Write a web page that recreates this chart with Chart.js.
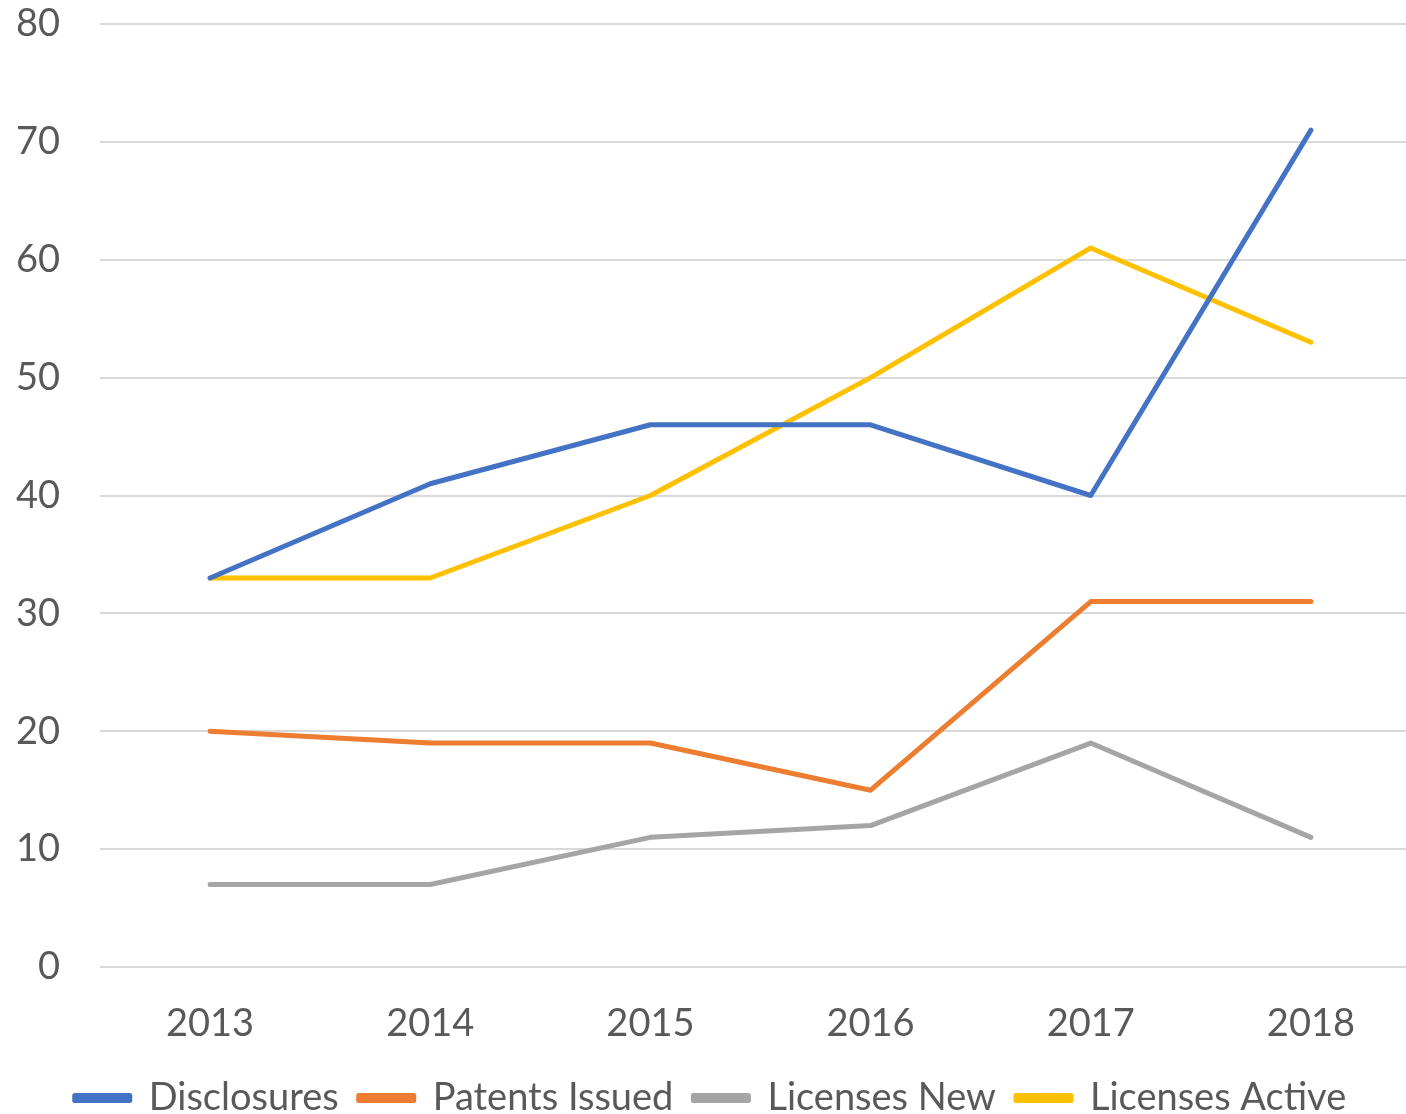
<!DOCTYPE html>
<html>
<head>
<meta charset="utf-8">
<script src="https://cdn.jsdelivr.net/npm/chart.js@4.4.0/dist/chart.umd.min.js"></script>
<style>
  html, body { margin: 0; padding: 0; background: #fff; overflow: hidden; }
  canvas { display: block; }
</style>
</head>
<body>
<canvas id="grafica" width="1422" height="1127"></canvas>
<script>
// datos
const anios = ["2013", "2014", "2015", "2016", "2017", "2018"];
const disclosures = [33, 41, 46, 46, 40, 71];
const patentsIssued = [20, 19, 19, 15, 31, 31];
const licensesNew = [7, 7, 11, 12, 19, 11];
const licensesActive = [33, 33, 40, 50, 61, 53];
const yTicks = [0, 10, 20, 30, 40, 50, 60, 70, 80];

const fuente = "Lato, 'Open Sans', sans-serif";
const gris = "#595959";

function serie(label, data, color) {
  return {
    label, data,
    borderColor: color,
    backgroundColor: color,
    borderWidth: 5,
    pointRadius: 0,
    tension: 0,
    borderCapStyle: "round",
    borderJoinStyle: "round"
  };
}

new Chart(document.getElementById("grafica"), {
  type: "line",
  data: {
    labels: anios,
    datasets: [
      serie("Disclosures", disclosures, "#4472C4"),
      serie("Patents Issued", patentsIssued, "#ED7D31"),
      serie("Licenses New", licensesNew, "#A5A5A5"),
      serie("Licenses Active", licensesActive, "#FFC000")
    ]
  },
  options: {
    responsive: false,
    animation: false,
    layout: { padding: { top: 24, right: 1, left: 0, bottom: 0 } },
    scales: {
      x: {
        offset: true,
        grid: { display: false, drawTicks: false },
        border: { display: false },
        ticks: { color: gris, font: { family: fuente, size: 38 }, padding: 34, maxRotation: 0 },
        afterFit: s => { s.height = 92; }
      },
      y: {
        min: 0, max: 80,
        afterBuildTicks: s => { s.ticks = yTicks.map(v => ({ value: v })); },
        // la separacion de las etiquetas va en tickLength (padding agranda el area superior)
        grid: { color: "#d9d9d9", lineWidth: 2, drawTicks: true, tickLength: 40, tickColor: "rgba(0,0,0,0)" },
        border: { display: false },
        ticks: { color: gris, font: { family: fuente, size: 38 }, padding: 0 },
        afterFit: s => { s.width = 100; }
      }
    },
    plugins: {
      tooltip: { enabled: false },
      legend: {
        position: "bottom",
        labels: {
          color: gris,
          font: { family: fuente, size: 38 },
          boxWidth: 55,
          boxHeight: 5,
          padding: 20
        }
      }
    }
  }
});
</script>
</body>
</html>
